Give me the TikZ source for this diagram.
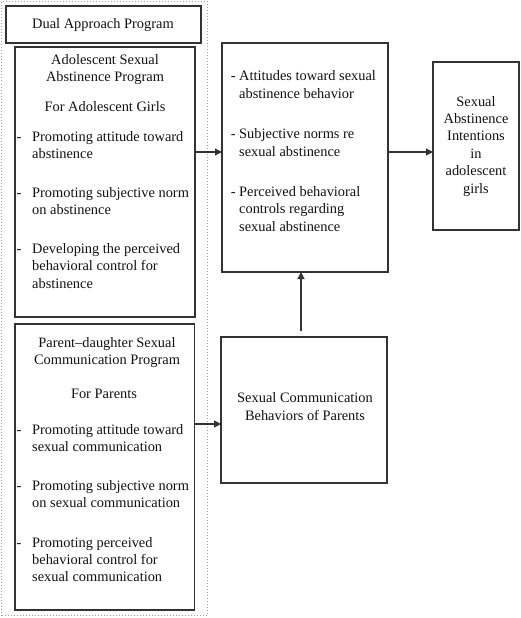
\documentclass[tikz,border=0pt]{standalone}
\usepackage{fontspec}
\setmainfont{Liberation Serif}
\usetikzlibrary{arrows.meta}
\definecolor{linec}{HTML}{333333}
\definecolor{txtc}{HTML}{111111}
\newcommand{\fsz}{\fontsize{14.4}{17.5}\selectfont}
\newcommand{\dsh}[1]{\makebox[#1][l]{-}}
\tikzset{
  box/.style={draw=linec, line width=1.2pt, anchor=north west, inner sep=0pt, outer sep=0pt},
  outerbox/.style={draw=gray!75, line width=1pt, dotted, anchor=north west, inner sep=0pt, outer sep=0pt},
  tl/.style={anchor=base west, inner sep=0pt, font=\fsz, text=txtc},
  tc/.style={anchor=base, inner sep=0pt, font=\fsz, text=txtc},
  arr/.style={draw=linec, line width=1.1pt, -{Triangle[length=7pt,width=7pt]}}
}
\begin{document}
\begin{tikzpicture}[x=1pt,y=-1pt]
\useasboundingbox (0,0) rectangle (520,618);
% boxes
\node[outerbox, minimum width=205.5pt, minimum height=614pt] (outer) at (1.5,1.5) {};
\node[box, minimum width=195pt, minimum height=37pt] (dual) at (6,6) {};
\node[box, minimum width=180pt, minimum height=270pt] (ado) at (15,47) {};
\node[box, minimum width=179.5pt, minimum height=286pt] (par) at (15,324) {};
\node[box, minimum width=166pt, minimum height=229pt] (mid) at (222,43) {};
\node[box, minimum width=86pt, minimum height=168pt] (res) at (433,62) {};
\node[box, minimum width=166pt, minimum height=146pt] (comm) at (221,337) {};
% texts
\node[tc] (tdual) at (103,29) {Dual Approach Program};
\node[tc] (ta1) at (105,64) {Adolescent Sexual};
\node[tc] (ta2) at (105,81.5) {Abstinence Program};
\node[tc] (ta3) at (105,111) {For Adolescent Girls};
\node[tl] (ta4) at (16.5,141) {\dsh{15.5pt}Promoting attitude toward};
\node[tl] (ta5) at (32,158.5) {abstinence};
\node[tl] (ta6) at (16.5,197) {\dsh{15.5pt}Promoting subjective norm};
\node[tl] (ta7) at (32,214.5) {on abstinence};
\node[tl] (ta8) at (16.5,253) {\dsh{15.5pt}Developing the perceived};
\node[tl] (ta9) at (32,270.5) {behavioral control for};
\node[tl] (ta10) at (32,288) {abstinence};
\node[tc] (tp1) at (107,347) {Parent–daughter Sexual};
\node[tc] (tp2) at (107,364) {Communication Program};
\node[tc] (tp3) at (104,398) {For Parents};
\node[tl] (tp4) at (16.5,434) {\dsh{15.5pt}Promoting attitude toward};
\node[tl] (tp5) at (32,451) {sexual communication};
\node[tl] (tp6) at (16.5,490) {\dsh{15.5pt}Promoting subjective norm};
\node[tl] (tp7) at (32,507) {on sexual communication};
\node[tl] (tp8) at (16.5,547) {\dsh{15.5pt}Promoting perceived};
\node[tl] (tp9) at (32,564) {behavioral control for};
\node[tl] (tp10) at (32,581) {sexual communication};
\node[tl] (tm1) at (230.7,81) {\dsh{8.3pt}Attitudes toward sexual};
\node[tl] (tm2) at (239,98.5) {abstinence behavior};
\node[tl] (tm3) at (230.7,138.5) {\dsh{8.3pt}Subjective norms re};
\node[tl] (tm4) at (239,156) {sexual abstinence};
\node[tl] (tm5) at (230.7,196) {\dsh{8.3pt}Perceived behavioral};
\node[tl] (tm6) at (239,213.5) {controls regarding};
\node[tl] (tm7) at (239,231) {sexual abstinence};
\node[tc] (tr1) at (476,106) {Sexual};
\node[tc] (tr2) at (476,123.4) {Abstinence};
\node[tc] (tr3) at (476,140.8) {Intentions};
\node[tc] (tr4) at (476,158.2) {in};
\node[tc] (tr5) at (476,175.6) {adolescent};
\node[tc] (tr6) at (476,193) {girls};
\node[tc] (tc1) at (305,402) {Sexual Communication};
\node[tc] (tc2) at (305,420) {Behaviors of Parents};
% connectors
\coordinate (a1s) at (195,152);
\coordinate (a1e) at (222,152);
\coordinate (a2s) at (388,152);
\coordinate (a2e) at (433,152);
\coordinate (a3s) at (194.5,424);
\coordinate (a3e) at (221,424);
\coordinate (a4s) at (301,331);
\coordinate (a4e) at (301,272);
\draw[arr] (a1s) -- (a1e);
\draw[arr] (a2s) -- (a2e);
\draw[arr] (a3s) -- (a3e);
\draw[arr] (a4s) -- (a4e);
\end{tikzpicture}
\end{document}
